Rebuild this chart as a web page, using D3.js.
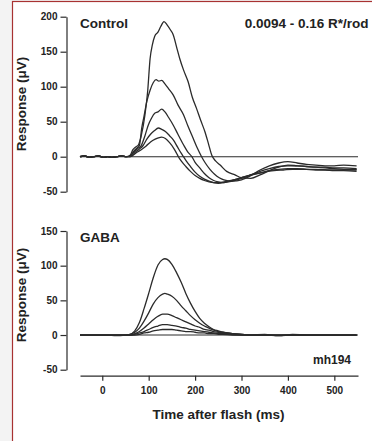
<!DOCTYPE html>
<html>
<head>
<meta charset="utf-8">
<script src="https://cdn.jsdelivr.net/npm/d3@7"></script>
<style>
  body { margin: 0; background: #f3f3f3; }
  #container { width: 372px; height: 441px; overflow: hidden; }
  text { font-family: "Liberation Sans", Arial, sans-serif; font-weight: bold; fill: #222; }
</style>
</head>
<body>
<div id="container"></div>
<script>
let w = 372;
let h = 441;

// time axis ticks (ms)
let timeTicks = [0, 100, 200, 300, 400, 500];
let controlTicks = [-50, 0, 50, 100, 150, 200];
let gabaTicks = [-50, 0, 50, 100, 150];

// pre-flash baseline shared by the control traces [ms, uV]
let baseline = [[-48,0],[-38,1],[-28,-1],[-18,0],[-8,1],[2,-1],[12,0],[22,-1],[32,0],[42,1],[52,0]];

// control traces, brightest flash first [ms, uV]
let control1 = [[60,2],[66,10],[72,14],[78,17],[84,30],[92,60],[98,95],[103,140],[108,160],[113,172],[120,178],[126,186],[133,193],[140,188],[147,181],[153,174],[160,157],[167,140],[175,124],[185,107],[194,85],[203,69],[212,52],[221,36],[229,18],[236,2],[244,-6],[254,-12],[268,-21],[286,-26],[300,-30],[320,-31],[340,-26],[360,-20],[380,-15],[400,-12],[420,-13],[440,-14],[460,-15],[480,-15],[500,-16],[520,-16],[548,-17]];
let control2 = [[60,1],[68,8],[74,12],[80,16],[85,41],[90,58],[96,79],[103,95],[110,106],[116,110],[122,108],[128,109],[135,104],[143,97],[153,88],[163,74],[175,60],[185,43],[196,26],[205,12],[214,0],[222,-9],[232,-18],[242,-25],[252,-30],[262,-33],[280,-35],[300,-33],[320,-27],[340,-19],[360,-13],[380,-9],[400,-7],[420,-9],[440,-11],[460,-12],[480,-13],[500,-13],[520,-12],[548,-13]];
let control3 = [[60,1],[70,8],[77,12],[84,16],[92,30],[99,45],[106,55],[113,62],[120,64],[128,68],[135,64],[143,56],[153,45],[163,32],[175,17],[184,7],[193,0],[200,-8],[210,-16],[220,-24],[230,-30],[240,-34],[250,-36],[262,-37],[280,-35],[300,-31],[320,-26],[340,-21],[360,-17],[380,-14],[400,-13],[420,-13],[440,-14],[460,-15],[480,-16],[500,-17],[520,-18],[548,-18]];
let control4 = [[60,0],[72,7],[80,11],[88,16],[96,25],[104,32],[112,37],[121,41],[128,39],[136,36],[145,30],[153,24],[162,14],[170,5],[175,0],[182,-7],[190,-14],[200,-22],[210,-28],[220,-32],[230,-35],[240,-37],[250,-38],[262,-37],[280,-34],[300,-30],[320,-26],[340,-23],[360,-20],[380,-18],[400,-17],[420,-17],[440,-18],[460,-19],[480,-19],[500,-20],[520,-20],[548,-21]];
let control5 = [[60,0],[74,6],[84,10],[94,15],[104,21],[114,25],[121,27],[128,28],[136,26],[145,20],[154,12],[160,5],[164,0],[170,-6],[180,-14],[190,-21],[200,-27],[210,-31],[220,-34],[230,-36],[240,-37],[255,-37],[270,-35],[290,-32],[310,-28],[330,-25],[350,-22],[370,-20],[390,-19],[410,-18],[430,-18],[460,-18],[490,-19],[520,-19],[548,-19]];

// GABA traces share one time base
let gabaTime = [-48,-30,-10,10,30,50,60,70,80,90,100,110,120,130,135,140,150,160,170,180,190,200,210,220,230,240,250,260,280,300,320,350,380,410,440,470,500,530,548];
let gaba1 = [0,0,0,0,-1,0,1,6,18,38,60,83,101,109,110,109,102,90,76,60,46,34,24,17,12,8,6,4,2,1,0,1,-1,1,0,0,0,0,0];
let gaba2 = [0,0,0,0,0,0,1,4,10,20,32,45,54,59,60,59,56,50,42,35,28,22,17,13,10,7,5,4,2,1,0,0,-1,0,0,0,0,0,0];
let gaba3 = [0,0,0,0,0,0,0,2,5,10,16,22,27,30,30,30,28,25,22,19,16,13,11,8,7,5,4,3,2,1,0,0,0,0,0,0,0,0,0];
let gaba4 = [0,0,0,0,0,0,0,1,3,5,8,11,13,15,15,15,14,13,11,10,8,7,6,5,4,3,2,2,1,0,0,0,0,0,0,0,0,0,0];
let gaba5 = [0,0,0,0,0,0,0,0,1,3,4,6,7,8,8,8,8,7,6,5,5,4,3,3,2,2,1,1,0,0,0,0,0,0,0,0,0,0,0];

let controlTraces = [control1, control2, control3, control4, control5].map(function(t){
  return baseline.concat(t);
});
let gabaTraces = [gaba1, gaba2, gaba3, gaba4, gaba5].map(function(vals){
  return vals.map(function(v, i){ return [gabaTime[i], v]; });
});

let viz = d3.select("#container")
  .append("svg")
    .attr("width", w)
    .attr("height", h)
;

// white panel with red frame
viz.append("rect")
  .attr("x", 12.5).attr("y", 1.5)
  .attr("width", w).attr("height", h)
  .attr("fill", "white")
  .attr("stroke", "#a83232")
  .attr("stroke-width", 1.2);

let xScale = d3.scaleLinear().domain([-48, 551]).range([80, 358]);
let yTop = d3.scaleLinear().domain([-50, 200]).range([191.7, 16.7]);
let yBot = d3.scaleLinear().domain([-50, 150]).range([369.7, 231]);

let ink = "#2b2b2b";

// plain hyphen for negatives, like the original
function plain(d){ return String(d); }

function drawPanel(yScale, ticks, traces, title, titleY, axisTitleY){
  let g = viz.append("g");

  let yAxis = d3.axisLeft(yScale).tickValues(ticks).tickFormat(plain)
    .tickSize(6).tickSizeOuter(0).tickPadding(3);
  let ya = g.append("g")
    .attr("transform", "translate(66.5,0)")
    .call(yAxis);
  ya.selectAll("path, line").attr("stroke", ink).attr("stroke-width", 1.2);
  ya.selectAll("text").style("font-size", "10px").attr("fill", "#222");

  // zero line
  g.append("line")
    .attr("x1", xScale(-48)).attr("x2", xScale(551))
    .attr("y1", yScale(0)).attr("y2", yScale(0))
    .attr("stroke", ink).attr("stroke-width", 1.1);

  let line = d3.line()
    .x(function(d){ return xScale(d[0]); })
    .y(function(d){ return yScale(d[1]); })
    .curve(d3.curveMonotoneX);

  g.selectAll(".trace").data(traces).enter()
    .append("path")
      .attr("class", "trace")
      .attr("d", line)
      .attr("fill", "none")
      .attr("stroke", ink)
      .attr("stroke-width", 1.3);

  g.append("text")
    .attr("x", 80).attr("y", titleY)
    .style("font-size", "13.5px")
    .text(title);

  g.append("text")
    .attr("transform", "translate(26," + axisTitleY + ") rotate(-90)")
    .attr("text-anchor", "middle")
    .style("font-size", "13.5px")
    .text("Response (\u03BCV)");
}

drawPanel(yTop, controlTicks, controlTraces, "Control", 28.3, 104);
drawPanel(yBot, gabaTicks, gabaTraces, "GABA", 241.7, 295);

viz.append("text")
  .attr("x", 368.5).attr("y", 28.3)
  .attr("text-anchor", "end")
  .style("font-size", "13.5px")
  .text("0.0094 - 0.16 R*/rod");

viz.append("text")
  .attr("x", 351).attr("y", 364.3)
  .attr("text-anchor", "end")
  .style("font-size", "12px")
  .text("mh194");

// time axis
let xAxis = d3.axisBottom(xScale).tickValues(timeTicks).tickFormat(plain)
  .tickSize(5).tickSizeOuter(0).tickPadding(6);
let xa = viz.append("g")
  .attr("transform", "translate(0,375.7)")
  .call(xAxis);
xa.selectAll("path, line").attr("stroke", ink).attr("stroke-width", 1.2);
xa.selectAll("text").style("font-size", "10px").attr("fill", "#222");

viz.append("text")
  .attr("x", 218.5).attr("y", 419)
  .attr("text-anchor", "middle")
  .style("font-size", "13.5px")
  .text("Time after flash (ms)");
</script>
</body>
</html>
